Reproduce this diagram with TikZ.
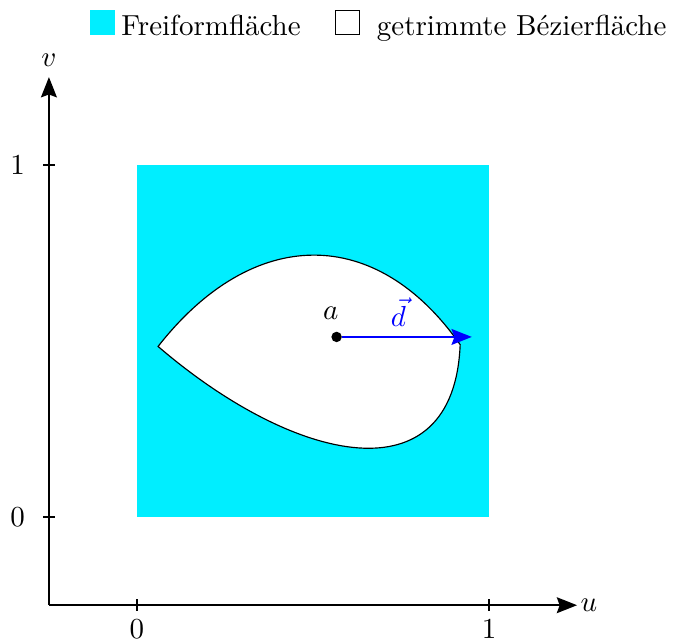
\documentclass[tikz,border=0pt]{standalone}
\usepackage{tikz}
\usepackage{amsmath}
\usepackage{xcolor}
\usetikzlibrary{arrows.meta,positioning}
\definecolor{FlaecheCyan}{RGB}{0,238,255}
\definecolor{RichtungBlau}{RGB}{0,0,255}
\tikzset{
  achse/.style={-{Stealth[length=7pt,width=5.5pt,inset=1pt]},line width=0.5pt},
  tickmark/.style={line width=0.5pt},
  rand/.style={draw=black,fill=white,line width=0.4pt},
  legfill/.style={fill=FlaecheCyan,minimum size=8.6pt,inner sep=0pt},
  legbox/.style={draw=black,fill=white,line width=0.5pt,minimum size=8.4pt,inner sep=0pt},
  legtext/.style={inner sep=0pt,anchor=base west},
  punkt/.style={circle,fill=black,minimum size=3.6pt,inner sep=0pt},
  richtung/.style={-{Stealth[length=7pt,width=5.5pt,inset=1pt]},RichtungBlau,line width=0.5pt},
}

\begin{document}
\begin{tikzpicture}[x=4.27cm,y=4.27cm]
        \useasboundingbox (-0.389,-0.349) rectangle (1.531,1.469);
        % Parameterbereich
        \fill[FlaecheCyan] (0,0) rectangle (1,1);
        \draw[rand] (0.06,0.485) .. controls (0.33,0.83) and (0.68,0.83) .. (0.918,0.49)
                    .. controls (0.9,0.05) and (0.45,0.15) .. (0.06,0.485) -- cycle;
        % Achsen
        \coordinate (ursprung) at (-0.25,-0.25);
        \coordinate (uende) at (1.25,-0.25);
        \coordinate (vende) at (-0.25,1.25);
        \draw[achse] (ursprung) -- (uende) node[right,inner sep=1pt] (ulab) {$u$};
        \draw[achse] (ursprung) -- (vende) node[above] (vlab) {$v$};
        \foreach \t in {0,1} {
          \draw[tickmark] (\t,-0.233) -- (\t,-0.267) node[below,inner sep=2.6pt] {$\t$};
          \draw[tickmark] (-0.233,\t) -- (-0.267,\t) node[left=2.7pt] {$\t$};
        }
        % Punkt und Richtung
        \node[punkt] (a) at (0.567,0.512) {};
        \node[above=0.5pt of a,xshift=-2pt] (alab) {$a$};
        \coordinate (dende) at (0.951,0.512);
        \draw[richtung] (a) -- (dende) node[midway,above,xshift=-3pt] (dlab) {$\vec{d}$};
        % Legende
        \node[legfill] (lgfrei) at (-0.097,1.405) {};
        \node[legtext,right=1.7pt of lgfrei.south east,anchor=base west] (txfrei) {Freiformfläche};
        \node[legbox] (lgtrim) at (0.598,1.405) {};
        \node[legtext,right=5.5pt of lgtrim.south east,anchor=base west] (txtrim) {getrimmte Bézierfläche};
      \end{tikzpicture}
\end{document}
